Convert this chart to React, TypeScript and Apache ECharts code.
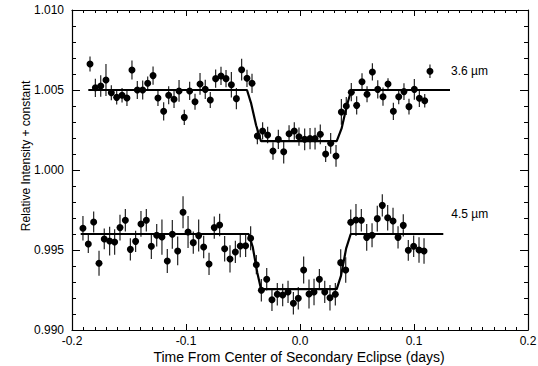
import React, { useEffect, useRef } from "react";
import * as echarts from "echarts";

// 3.6 micron series
const x36 = [-0.1842,-0.1795,-0.1748,-0.1702,-0.1655,-0.1608,-0.1561,-0.1518,-0.1474,-0.1427,-0.138,-0.1336,-0.1289,-0.1246,-0.1196,-0.1152,-0.1105,-0.1061,-0.1015,-0.0968,-0.0921,-0.0877,-0.0831,-0.0787,-0.074,-0.0693,-0.0649,-0.0602,-0.0558,-0.0512,-0.0465,-0.0421,-0.0374,-0.0328,-0.0284,-0.0237,-0.019,-0.0143,-0.0096,-0.005,-0.0009,0.0041,0.0088,0.0132,0.0178,0.0225,0.0269,0.0316,0.0363,0.0406,0.045,0.0497,0.0544,0.0588,0.0635,0.0682,0.0728,0.0772,0.0819,0.0866,0.0912,0.0956,0.1003,0.1047,0.1094,0.114];
const y36 = [1.00663,1.00514,1.00525,1.00563,1.00483,1.00454,1.00467,1.0045,1.00625,1.005,1.005,1.00542,1.0059,1.0045,1.00367,1.00467,1.00442,1.00494,1.00329,1.00494,1.00427,1.00538,1.00504,1.00438,1.00571,1.00588,1.00571,1.00533,1.00446,1.00627,1.00573,1.00542,1.00213,1.00244,1.00219,1.00119,1.00192,1.00114,1.00227,1.00244,1.00208,1.00192,1.00196,1.00196,1.00223,1.001,1.00167,1.00088,1.00363,1.004,1.00486,1.00404,1.00552,1.00473,1.00613,1.00504,1.00458,1.00538,1.00367,1.00458,1.0049,1.00396,1.00504,1.00448,1.00433,1.00617];
const e36 = [0.00047,0.00057,0.00067,0.001,0.00047,0.00045,0.00045,0.0005,0.0006,0.00057,0.0006,0.00042,0.00057,0.0005,0.00057,0.00056,0.00054,0.00068,0.00047,0.00057,0.0005,0.00068,0.0006,0.0005,0.00057,0.00057,0.00054,0.0008,0.00066,0.00068,0.00054,0.0006,0.00052,0.00054,0.00052,0.00055,0.0006,0.00073,0.00052,0.00055,0.00057,0.00068,0.00066,0.00068,0.00062,0.0005,0.00065,0.00068,0.0008,0.00057,0.00057,0.00057,0.00052,0.0005,0.00054,0.00057,0.00057,0.00036,0.00054,0.00047,0.00052,0.00049,0.00065,0.00054,0.00042,0.00042];
const modelX36 = [-0.1857,-0.0465,-0.0430,-0.0385,-0.0342,0.0322,0.0365,0.0410,0.0450,0.1316];
const modelY36 = [1.005,1.005,1.0042,1.0028,1.0018,1.0018,1.0026,1.0040,1.005,1.005];

// 4.5 micron series
const x45 = [-0.1904,-0.1857,-0.181,-0.1763,-0.1717,-0.167,-0.1626,-0.1579,-0.1532,-0.1488,-0.1442,-0.1395,-0.1348,-0.1304,-0.1257,-0.1211,-0.1164,-0.112,-0.1073,-0.1026,-0.0982,-0.0936,-0.0889,-0.0845,-0.0798,-0.0752,-0.0705,-0.0661,-0.0614,-0.0567,-0.0524,-0.0477,-0.0433,-0.0383,-0.0339,-0.0292,-0.0246,-0.0199,-0.0152,-0.0105,-0.0058,-0.0015,0.0032,0.0079,0.0123,0.017,0.0217,0.0263,0.031,0.0357,0.0401,0.0445,0.0491,0.0538,0.0585,0.0632,0.0678,0.0722,0.0769,0.0816,0.086,0.0906,0.095,0.0997,0.1044,0.1088];
const y45 = [0.99636,0.99538,0.99675,0.99417,0.99569,0.99556,0.9955,0.9964,0.99686,0.99504,0.99554,0.99663,0.99686,0.99523,0.99592,0.99581,0.99431,0.99598,0.99494,0.99736,0.99613,0.99546,0.9959,0.99519,0.99413,0.9964,0.99656,0.99508,0.99444,0.99488,0.99525,0.99527,0.99573,0.99408,0.99248,0.99317,0.99189,0.99223,0.99219,0.99238,0.99167,0.99198,0.99375,0.99225,0.99238,0.99317,0.99238,0.99202,0.99223,0.99421,0.99375,0.99673,0.99688,0.99686,0.99579,0.99592,0.99696,0.99779,0.99702,0.99681,0.99579,0.99654,0.99498,0.99523,0.995,0.99494];
const e45 = [0.00077,0.00057,0.00066,0.00078,0.00065,0.0009,0.0008,0.0008,0.0007,0.0007,0.00066,0.0008,0.0007,0.0008,0.0007,0.0011,0.00075,0.0009,0.0009,0.001,0.001,0.0007,0.001,0.0007,0.0007,0.0007,0.0007,0.0008,0.00085,0.0007,0.0007,0.0007,0.00075,0.0006,0.0007,0.0007,0.0007,0.0007,0.0007,0.0007,0.0007,0.0007,0.00085,0.0009,0.00083,0.00065,0.0007,0.0008,0.0007,0.00083,0.0008,0.0008,0.001,0.0007,0.00083,0.00075,0.0008,0.0007,0.0008,0.00083,0.0007,0.0007,0.00065,0.00067,0.0008,0.0008];
const modelX45 = [-0.1924,-0.045,-0.0415,-0.0375,-0.0342,0.0322,0.0360,0.0405,0.0445,0.1257];
const modelY45 = [0.996,0.996,0.9952,0.9936,0.99256,0.99256,0.9934,0.9951,0.996,0.996];

const xTicks = [-0.2, -0.1, 0.0, 0.1, 0.2];
const yTicks = [0.99, 0.995, 1.0, 1.005, 1.01];
const seriesLabels = ["3.6 \u00b5m", "4.5 \u00b5m"];
const xTitle = "Time From Center of Secondary Eclipse (days)";
const yTitle = "Relative Intensity + constant";

const FONT = "'Liberation Sans', Arial, Helvetica, sans-serif";

export default function App() {
  const ref = useRef<HTMLDivElement>(null);
  useEffect(() => {
    if (!ref.current) return;
    const chart = echarts.init(ref.current, undefined, { renderer: "svg" });
    const pts = (xs: number[], ys: number[]) => xs.map((x, i) => [x, ys[i]]);
    const errs = (xs: number[], ys: number[], es: number[]) => xs.map((x, i) => [x, ys[i], es[i]]);
    const errorRender = (params: any, api: any) => {
      const x = api.value(0), y = api.value(1), e = api.value(2);
      const p1 = api.coord([x, y - e]);
      const p2 = api.coord([x, y + e]);
      return {
        type: "line",
        shape: { x1: p1[0], y1: p1[1], x2: p2[0], y2: p2[1] },
        style: { stroke: "#222", lineWidth: 1.2 },
      };
    };
    const axisCommon = {
      axisLine: { show: true, onZero: false, lineStyle: { color: "#000", width: 1.2 } },
      splitLine: { show: false },
    };
    const fmtX = (v: number) => {
      const t = xTicks.find((k) => Math.abs(k - v) < 1e-9);
      return t === undefined ? "" : t.toFixed(1);
    };
    const fmtY = (v: number) => {
      const t = yTicks.find((k) => Math.abs(k - v) < 1e-9);
      return t === undefined ? "" : t.toFixed(3);
    };
    chart.setOption({
      animation: false,
      backgroundColor: "#fff",
      grid: { left: 72, right: 10, top: 10, bottom: 36, outerBoundsMode: "none", containLabel: false },
      xAxis: [
        {
          type: "value", min: -0.2, max: 0.2, interval: 0.1, position: "bottom",
          ...axisCommon,
          axisTick: { show: true, inside: true, length: 6, lineStyle: { color: "#000" } },
          minorTick: { show: true, splitNumber: 10, length: 3, lineStyle: { color: "#000" } },
          axisLabel: { formatter: fmtX, color: "#000", fontSize: 12, lineHeight: 12, fontFamily: FONT, margin: 5 },
        },
        {
          type: "value", min: -0.2, max: 0.2, interval: 0.1, position: "top",
          ...axisCommon,
          axisTick: { show: true, inside: true, length: 6, lineStyle: { color: "#000" } },
          minorTick: { show: true, splitNumber: 10, length: 3, lineStyle: { color: "#000" } },
          axisLabel: { show: false },
        },
      ],
      yAxis: [
        {
          type: "value", min: 0.99, max: 1.01, interval: 0.005, position: "left",
          ...axisCommon,
          axisTick: { show: true, inside: true, length: 8, lineStyle: { color: "#000" } },
          minorTick: { show: true, splitNumber: 5, length: 4, lineStyle: { color: "#000" } },
          axisLabel: { formatter: fmtY, color: "#000", fontSize: 12, fontFamily: FONT, margin: 8 },
        },
        {
          type: "value", min: 0.99, max: 1.01, interval: 0.005, position: "right",
          ...axisCommon,
          axisTick: { show: true, inside: true, length: 8, lineStyle: { color: "#000" } },
          minorTick: { show: true, splitNumber: 5, length: 4, lineStyle: { color: "#000" } },
          axisLabel: { show: false },
        },
      ],
      graphic: [
        {
          type: "text", x: 26, y: 156, rotation: Math.PI / 2,
          style: { text: yTitle, fill: "#000", fontSize: 12, fontFamily: FONT, align: "center", verticalAlign: "middle" },
        },
        {
          type: "text", x: 299, y: 357,
          style: { text: xTitle, fill: "#000", fontSize: 14, lineHeight: 14, fontFamily: FONT, align: "center", verticalAlign: "middle" },
        },
      ],
      series: [
        { type: "custom", renderItem: errorRender, data: errs(x36, y36, e36), encode: { x: 0, y: 1 }, z: 2 },
        { type: "custom", renderItem: errorRender, data: errs(x45, y45, e45), encode: { x: 0, y: 1 }, z: 2 },
        {
          type: "line", data: pts(modelX36, modelY36), showSymbol: false, symbol: "none",
          lineStyle: { color: "#000", width: 2.2 }, z: 3,
          endLabel: { show: true, formatter: seriesLabels[0], color: "#000", fontSize: 12, fontFamily: FONT, offset: [-7, -19] },
        },
        {
          type: "line", data: pts(modelX45, modelY45), showSymbol: false, symbol: "none",
          lineStyle: { color: "#000", width: 2.2 }, z: 3,
          endLabel: { show: true, formatter: seriesLabels[1], color: "#000", fontSize: 12, fontFamily: FONT, offset: [0, -20] },
        },
        { type: "scatter", data: pts(x36, y36), symbol: "circle", symbolSize: 7, itemStyle: { color: "#000", opacity: 1 }, z: 4 },
        { type: "scatter", data: pts(x45, y45), symbol: "circle", symbolSize: 7, itemStyle: { color: "#000", opacity: 1 }, z: 4 },
      ],
    });
    return () => chart.dispose();
  }, []);
  return <div ref={ref} style={{ width: 538, height: 366, position: "absolute", left: 0, top: 0 }} />;
}
